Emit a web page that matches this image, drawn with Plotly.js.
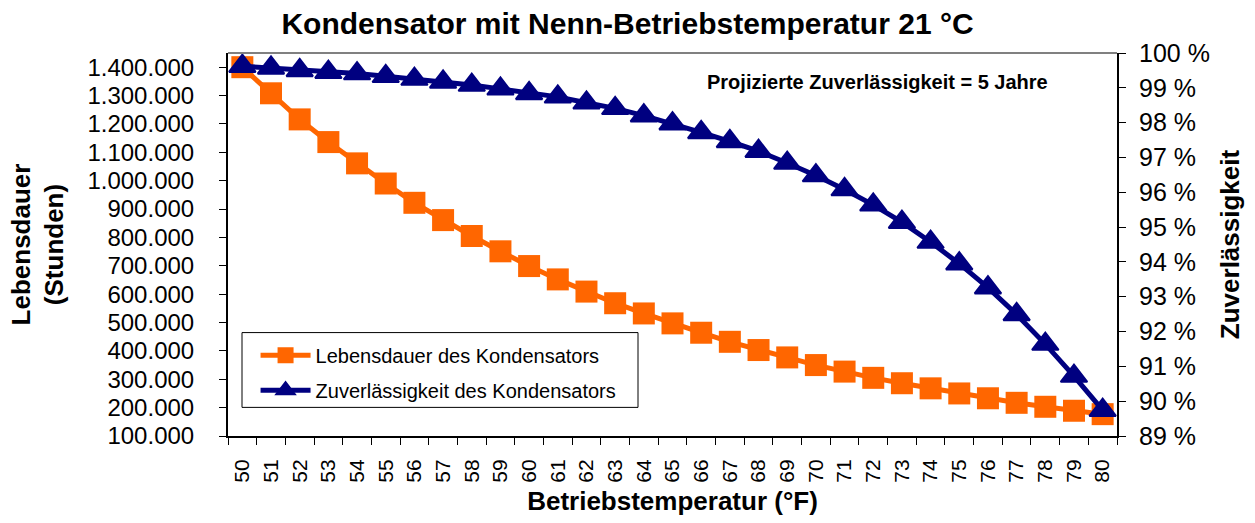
<!DOCTYPE html>
<html>
<head>
<meta charset="utf-8">
<script src="https://cdn.plot.ly/plotly-3.0.1.min.js"></script>
<style>html,body{margin:0;padding:0;background:#fff;}#chart{width:1255px;height:523px;}</style>
</head>
<body>
<div id="chart"></div>
<script>
// Betriebstemperatur (°F) categories
const temperaturen = ["50","51","52","53","54","55","56","57","58","59","60","61","62","63","64","65","66","67","68","69","70","71","72","73","74","75","76","77","78","79","80"];
// Lebensdauer (Stunden)
const lebensdauer = [1400000,1308000,1216000,1136000,1061000,990000,922000,861000,805000,751000,699000,652000,609000,568000,532000,497000,464000,432000,403000,377000,350000,327000,305000,286000,268000,250000,233000,217000,203000,189000,177000];
// Zuverlässigkeit (%)
const zuverlaessigkeit = [99.62,99.57,99.50,99.45,99.41,99.33,99.25,99.17,99.08,98.97,98.84,98.74,98.57,98.41,98.20,97.97,97.72,97.46,97.18,96.84,96.48,96.08,95.64,95.14,94.57,93.95,93.26,92.49,91.64,90.72,89.74];

const FONT = "Liberation Sans, Arial, sans-serif";

const traces = [
  {
    x: temperaturen, y: lebensdauer, type: "scatter", mode: "lines+markers",
    name: "Lebensdauer des Kondensators", legendgroup: "a",
    line: {color: "#FF6600", width: 5},
    marker: {symbol: "square", size: 22, color: "#FF6600"},
    yaxis: "y"
  },
  {
    x: temperaturen, y: zuverlaessigkeit, type: "scatter", mode: "lines+markers",
    name: "Zuverlässigkeit des Kondensators", legendgroup: "b",
    line: {color: "#000080", width: 5},
    marker: {symbol: "triangle-up", size: 23, color: "#000080", line: {color: "#000080", width: 2}},
    yaxis: "y2"
  }
];

const layout = {
  width: 1255, height: 523,
  margin: {l: 228, r: 138, t: 53, b: 87},
  paper_bgcolor: "#fff", plot_bgcolor: "#fff",
  separators: ",.",
  font: {family: FONT, color: "#000"},
  showlegend: true,
  title: {
    text: "<b>Kondensator mit Nenn-Betriebstemperatur 21 °C</b>",
    font: {family: FONT, size: 30, color: "#000"},
    x: 0.5, xref: "container", xanchor: "center",
    y: 0.956, yref: "container", yanchor: "middle"
  },
  xaxis: {
    type: "category",
    range: [-0.5, 30.5],
    tickson: "boundaries",
    ticks: "outside", ticklen: 7, tickcolor: "#000", tickwidth: 1,
    tickangle: -90,
    ticklabelstandoff: 13,
    tickfont: {family: FONT, size: 21},
    showline: true, linecolor: "#000", linewidth: 2,
    showgrid: false, zeroline: false,
    title: {text: "<b>Betriebstemperatur (°F)</b>", font: {family: FONT, size: 26}, standoff: 10}
  },
  yaxis: {
    range: [100000, 1450000],
    tick0: 100000, dtick: 100000,
    tickformat: ",d",
    ticks: "outside", ticklen: 7, tickcolor: "#000",
    ticklabelstandoff: 20,
    tickfont: {family: FONT, size: 24},
    showline: true, linecolor: "#000", linewidth: 2,
    showgrid: false, zeroline: false,
    title: {text: "<b>Lebensdauer<br>(Stunden)</b>", font: {family: FONT, size: 26}, standoff: 16}
  },
  yaxis2: {
    overlaying: "y", side: "right",
    range: [89, 100], dtick: 1, tick0: 89,
    ticksuffix: " %",
    ticks: "outside", ticklen: 7, tickcolor: "#000",
    ticklabelstandoff: 8,
    tickfont: {family: FONT, size: 25},
    showline: true, linecolor: "#000", linewidth: 2,
    showgrid: false, zeroline: false,
    title: {text: "<b>Zuverlässigkeit</b>", font: {family: FONT, size: 26}, standoff: 12}
  },
  legend: {
    x: 0.031, y: 0.262, xanchor: "left", yanchor: "top",
    bgcolor: "rgba(0,0,0,0)", borderwidth: 0,
    font: {family: FONT, size: 20},
    tracegroupgap: 6,
    itemwidth: 50
  },
  shapes: [
    {type: "line", xref: "paper", yref: "paper", x0: 0, x1: 1, y0: 1, y1: 1,
     line: {color: "#808080", width: 2}},
    {type: "rect", xref: "paper", yref: "paper", layer: "above",
     x0: 0.01575, x1: 0.4612, y0: 0.0747, y1: 0.270,
     line: {color: "#000", width: 1}, fillcolor: "#fff"}
  ],
  annotations: [
    {text: "<b>Projizierte Zuverlässigkeit = 5 Jahre</b>", xref: "paper", yref: "paper",
     x: 0.731, y: 0.924, xanchor: "center", yanchor: "middle", showarrow: false,
     font: {family: FONT, size: 20, color: "#000"}}
  ]
};

Plotly.newPlot("chart", traces, layout, {displayModeBar: false, responsive: false});
</script>
</body>
</html>
